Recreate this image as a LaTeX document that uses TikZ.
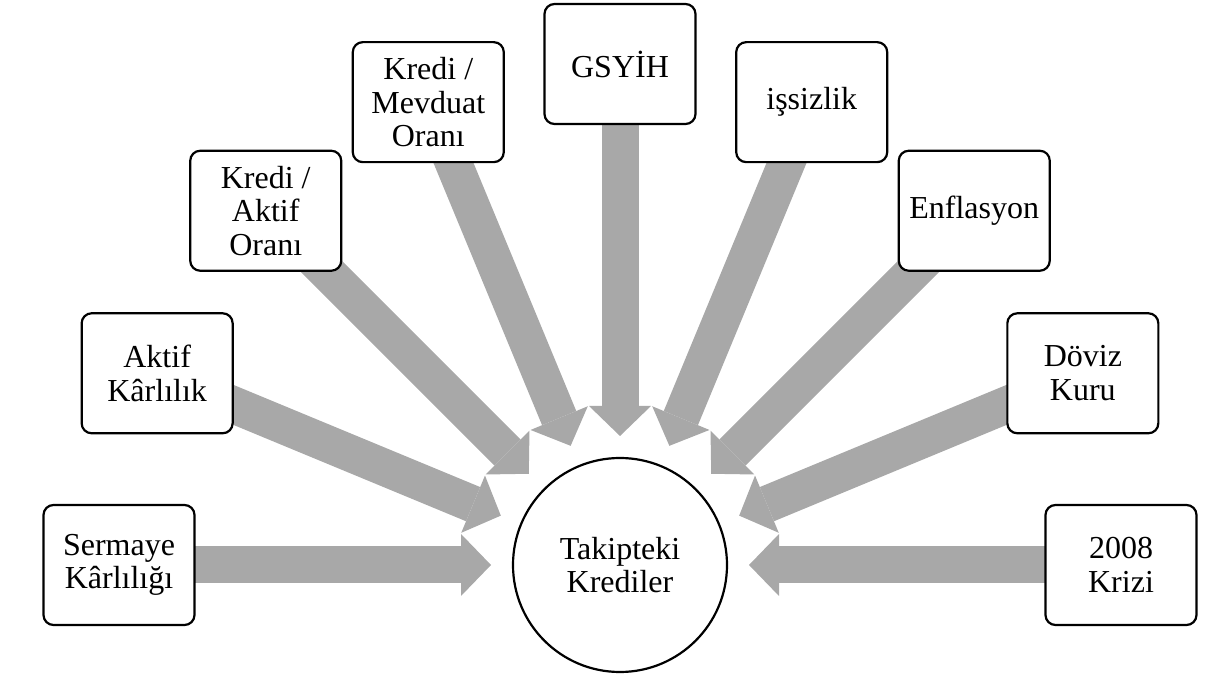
\documentclass[tikz,border=0pt]{standalone}
\usepackage{fontspec}
\setmainfont{Liberation Serif}
\usetikzlibrary{arrows.meta,backgrounds}
\definecolor{arrgray}{RGB}{168,168,168}
\begin{document}
\begin{tikzpicture}[x=1pt,y=1pt,
  box/.style={draw=black, line width=2.2pt, rounded corners=10pt, fill=white,
    minimum width=151pt, minimum height=120pt, inner sep=0pt, align=center,
    font=\fontsize{32}{33.5}\selectfont},
  hub/.style={draw=black, line width=2.2pt, circle, fill=white, minimum size=214pt,
    inner sep=0pt, align=center, font=\fontsize{32}{33.5}\selectfont},
  bigarrow/.style={draw=arrgray, line width=37pt,
    -{Triangle[width=62pt,length=30pt,line width=0pt]}, shorten >=129pt}
]
\useasboundingbox (0,0) rectangle (1205,677);
\node[hub] (tk) at (620,112) {Takipteki\\Krediler};
\path (tk.center) ++(180:501) node[box] (b1) {Sermaye\\Kârlılığı};
\path (tk.center) ++(157.5:501) node[box] (b2) {Aktif\\Kârlılık};
\path (tk.center) ++(135:501) node[box] (b3) {Kredi /\\Aktif\\Oranı};
\path (tk.center) ++(112.5:501) node[box] (b4) {Kredi /\\Mevduat\\Oranı};
\path (tk.center) ++(90:501) node[box] (b5) {GSYİH};
\path (tk.center) ++(67.5:501) node[box] (b6) {işsizlik};
\path (tk.center) ++(45:501) node[box] (b7) {Enflasyon};
\path (tk.center) ++(22.5:501) node[box] (b8) {Döviz\\Kuru};
\path (tk.center) ++(0:501) node[box] (b9) {2008\\Krizi};
\begin{scope}[on background layer]
\foreach \b in {b1,b2,b3,b4,b5,b6,b7,b8,b9}
  \draw[bigarrow] (\b.center) -- (tk.center);
\end{scope}
\end{tikzpicture}
\end{document}
